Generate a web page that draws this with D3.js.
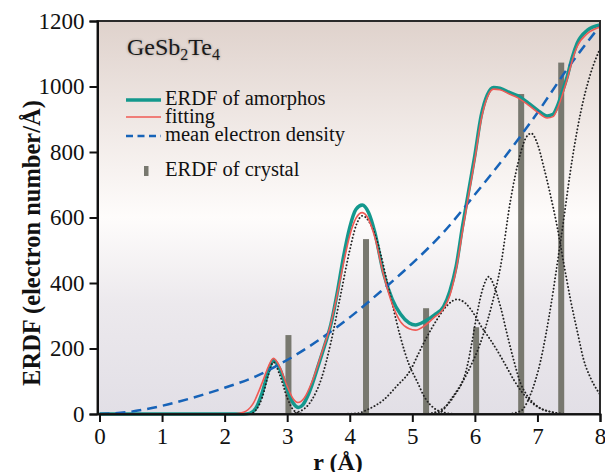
<!DOCTYPE html>
<html>
<head>
<meta charset="utf-8">
<script src="https://cdn.jsdelivr.net/npm/d3@7"></script>
<style>
  body { margin: 0; background: #fff; }
  #chart_div { width: 605px; height: 472px; }
</style>
</head>
<body>
<div id="chart_div"></div>
<script>
// ERDF of amorphous GeSb2Te4 (r in Å, value in electron number/Å)
var amorphous = [[0,0],[2.3,0],[2.4,2],[2.5,18],[2.6,65],[2.7,130],[2.78,165],[2.88,138],[3.0,75],[3.1,32],[3.18,20],[3.25,28],[3.35,65],[3.5,150],[3.6,210],[3.7,275],[3.8,370],[3.9,480],[4.0,570],[4.1,625],[4.2,638],[4.3,615],[4.4,555],[4.54,430],[4.68,350],[4.81,305],[4.95,278],[5.05,272],[5.2,283],[5.35,302],[5.5,328],[5.6,375],[5.7,450],[5.8,570],[5.9,680],[6.0,790],[6.1,910],[6.2,975],[6.3,997],[6.4,995],[6.55,982],[6.68,972],[6.85,950],[7.0,928],[7.155,910],[7.25,915],[7.315,938],[7.4,985],[7.475,1030],[7.55,1085],[7.635,1132],[7.8,1172],[8.0,1188]];
var fitting = [[2.15,0],[2.3,5],[2.45,30],[2.6,95],[2.7,145],[2.78,170],[2.88,145],[3.0,85],[3.1,45],[3.17,35],[3.27,48],[3.4,100],[3.55,185],[3.69,270],[3.8,365],[3.9,460],[4.0,545],[4.1,598],[4.2,615],[4.3,595],[4.4,540],[4.54,425],[4.68,335],[4.81,282],[4.95,260],[5.05,256],[5.2,270],[5.35,295],[5.5,322],[5.6,362],[5.7,440],[5.8,555],[5.9,668],[6.0,778],[6.1,898],[6.2,968],[6.3,992],[6.4,990],[6.55,977],[6.68,966],[6.85,944],[7.0,922],[7.155,904],[7.25,908],[7.315,930],[7.4,975],[7.475,1022],[7.55,1075],[7.635,1122],[7.8,1162],[8.0,1182]];
var meanDensity = [[0,0],[0.5,7],[1,25],[1.5,50],[2,80],[2.5,115],[3,165],[3.5,225],[4,295],[4.5,375],[5,460],[5.5,555],[6,670],[6.5,790],[7,920],[7.5,1060],[8,1185]];

// fitted components (dotted)
var peak1 = [[0,0],[2.4,0],[2.5,12],[2.6,50],[2.7,120],[2.78,158],[2.88,120],[3.0,50],[3.1,12],[3.2,2],[3.3,0],[8,0]];
var peak2 = [[0,0],[3.0,0],[3.2,8],[3.4,45],[3.55,110],[3.7,220],[3.85,360],[4.0,500],[4.1,575],[4.2,605],[4.3,590],[4.45,520],[4.595,406],[4.7,320],[4.81,235],[4.95,150],[5.075,100],[5.2,50],[5.34,19],[5.5,5],[5.7,0],[8,0]];
var peak3 = [[0,0],[3.8,0],[4.115,2],[4.3,15],[4.54,43],[4.75,85],[4.97,134],[5.1,185],[5.235,236],[5.4,290],[5.55,330],[5.715,350],[5.85,338],[5.98,307],[6.1,268],[6.25,226],[6.4,180],[6.515,141],[6.62,105],[6.73,73],[6.85,45],[7.0,22],[7.2,7],[7.5,0],[8,0]];
var peak4 = [[0,0],[5.2,0],[5.45,12],[5.66,53],[5.875,144],[5.95,215],[6.035,307],[6.13,385],[6.22,419],[6.31,390],[6.41,327],[6.52,240],[6.62,165],[6.73,94],[6.83,58],[6.94,33],[7.05,17],[7.21,7],[7.4,0],[8,0]];
var peak5 = [[0,0],[5.2,0],[5.45,7],[5.61,43],[5.875,124],[6.14,246],[6.28,340],[6.41,450],[6.57,653],[6.73,796],[6.82,845],[6.9,857],[7.0,825],[7.1,755],[7.2,675],[7.315,572],[7.42,460],[7.53,348],[7.64,250],[7.74,165],[7.85,110],[7.955,73],[8,60]];
var peak6 = [[0,0],[6.5,0],[6.73,9],[6.89,60],[7.05,162],[7.21,325],[7.37,528],[7.58,806],[7.69,920],[7.85,1040],[8,1115]];
var components = [peak1, peak2, peak3, peak4, peak5, peak6];

// ERDF of crystal (stick positions)
var crystalR = [3.02, 4.26, 5.22, 6.02, 6.74, 7.38];
var crystalVal = [241, 534, 323, 265, 977, 1073];

var xTicks = [0, 1, 2, 3, 4, 5, 6, 7, 8];
var yTicks = [0, 200, 400, 600, 800, 1000, 1200];

var legendItems = ["ERDF of amorphos", "fitting", "mean electron density"];

var width = 605, height = 472;
var plotLeft = 97.5, plotRight = 600, plotTop = 21, plotBottom = 414;

var serif = "'Liberation Serif', 'Times New Roman', serif";

var x = d3.scaleLinear().domain([0, 8]).range([99.5, plotRight]);
var y = d3.scaleLinear().domain([0, 1200]).range([plotBottom, plotTop]);

var svg = d3.select("#chart_div")
    .append("svg")
    .attr("width", width)
    .attr("height", height)
    .attr("viewBox", [0, 0, width, height])
    .style("font-family", serif);

// plot background gradient
var grad = svg.append("defs").append("linearGradient")
    .attr("id", "bg")
    .attr("x1", 0).attr("y1", 0).attr("x2", 0).attr("y2", 1);
grad.selectAll("stop")
    .data([[0, "#dfd2cc"], [0.28, "#f1eae7"], [0.5, "#fefcfb"], [0.72, "#ece9ed"], [1, "#e2dfe6"]])
    .join("stop")
    .attr("offset", d => d[0])
    .attr("stop-color", d => d[1]);

svg.append("rect")
    .attr("x", plotLeft).attr("y", plotTop)
    .attr("width", plotRight - plotLeft).attr("height", plotBottom - plotTop)
    .attr("fill", "url(#bg)");

// crystal sticks
svg.append("g")
    .attr("fill", "#78786f")
  .selectAll("rect")
  .data(crystalR)
  .join("rect")
    .attr("x", d => x(d) - 3)
    .attr("width", 6)
    .attr("y", (d, i) => y(crystalVal[i]))
    .attr("height", (d, i) => y(0) - y(crystalVal[i]));

var line = d3.line()
    .x(d => x(d[0]))
    .y(d => y(d[1]))
    .curve(d3.curveMonotoneX);

// amorphous ERDF
svg.append("path")
    .datum(amorphous)
    .attr("fill", "none")
    .attr("stroke", "#14988d")
    .attr("stroke-width", 3.5)
    .attr("stroke-linejoin", "round")
    .attr("d", line);

// gaussian components
svg.append("g")
    .attr("fill", "none")
    .attr("stroke", "#222")
    .attr("stroke-width", 1.9)
    .attr("stroke-dasharray", "0.1,3.4")
    .attr("stroke-linecap", "round")
  .selectAll("path")
  .data(components)
  .join("path")
    .attr("d", line);

// mean electron density
svg.append("path")
    .datum(meanDensity)
    .attr("fill", "none")
    .attr("stroke", "#1763b8")
    .attr("stroke-width", 2.5)
    .attr("stroke-dasharray", "10,6")
    .attr("d", line);

// fitting
svg.append("path")
    .datum(fitting)
    .attr("fill", "none")
    .attr("stroke", "#f05a55")
    .attr("stroke-width", 1.6)
    .attr("d", line);

// frame
svg.append("rect")
    .attr("x", plotLeft).attr("y", plotTop)
    .attr("width", plotRight - plotLeft).attr("height", plotBottom - plotTop)
    .attr("fill", "none")
    .attr("stroke", "#2a2a2a")
    .attr("stroke-width", 2);

// axes
svg.append("g")
    .attr("transform", `translate(0,${plotBottom})`)
    .call(d3.axisBottom(x).tickValues(xTicks).tickSize(8).tickPadding(6).tickFormat(d3.format("d")))
    .call(g => g.select(".domain").attr("stroke-width", 2).attr("stroke", "#111"))
    .call(g => g.selectAll(".tick line").attr("stroke-width", 2).attr("stroke", "#111"))
    .call(g => g.selectAll(".tick text").attr("font-size", 23).attr("font-family", serif).attr("fill", "#111"));

svg.append("g")
    .attr("transform", `translate(${plotLeft},0)`)
    .call(d3.axisLeft(y).tickValues(yTicks).tickSize(8).tickPadding(5).tickFormat(d3.format("d")))
    .call(g => g.select(".domain").attr("stroke-width", 2).attr("stroke", "#111"))
    .call(g => g.selectAll(".tick line").attr("stroke-width", 2).attr("stroke", "#111"))
    .call(g => g.selectAll(".tick text").attr("font-size", 23).attr("font-family", serif).attr("fill", "#111"));

// axis titles
svg.append("text")
    .attr("x", 338).attr("y", 470)
    .attr("text-anchor", "middle")
    .attr("font-size", 24)
    .attr("font-weight", "bold")
    .attr("fill", "#111")
    .text("r (Å)");

svg.append("text")
    .attr("transform", "translate(40,243) rotate(-90)")
    .attr("text-anchor", "middle")
    .attr("font-size", 24.5)
    .attr("font-weight", "bold")
    .attr("fill", "#111")
    .text("ERDF (electron number/Å)");

// compound label
var label = svg.append("text")
    .attr("x", 127).attr("y", 55)
    .attr("font-size", 24)
    .attr("fill", "#1a1a1a")
    .style("text-shadow", "0 0 3px rgba(0,0,0,0.3)");
label.append("tspan").text("GeSb");
label.append("tspan").attr("font-size", 16).attr("dy", 5).text("2");
label.append("tspan").attr("dy", -5).text("Te");
label.append("tspan").attr("font-size", 16).attr("dy", 5).text("4");

// legend
var legY = [100, 117, 136];
var legText = [105, 123, 141];
var lg = svg.append("g").attr("font-size", 20.5).attr("fill", "#111");

lg.append("line").attr("x1", 126).attr("x2", 161).attr("y1", legY[0]).attr("y2", legY[0])
    .attr("stroke", "#14988d").attr("stroke-width", 3.5);
lg.append("line").attr("x1", 126).attr("x2", 161).attr("y1", legY[1]).attr("y2", legY[1])
    .attr("stroke", "#f05a55").attr("stroke-width", 1.6);
lg.append("line").attr("x1", 126).attr("x2", 161).attr("y1", legY[2]).attr("y2", legY[2])
    .attr("stroke", "#1763b8").attr("stroke-width", 2.5).attr("stroke-dasharray", "7,4.5");

lg.selectAll("text.item")
  .data(legendItems)
  .join("text")
    .attr("class", "item")
    .attr("x", 165)
    .attr("y", (d, i) => legText[i])
    .text(d => d);

lg.append("rect").attr("x", 144).attr("y", 166).attr("width", 4.5).attr("height", 10).attr("fill", "#78786f");
lg.append("text").attr("x", 165).attr("y", 176).text("ERDF of crystal");
</script>
</body>
</html>
